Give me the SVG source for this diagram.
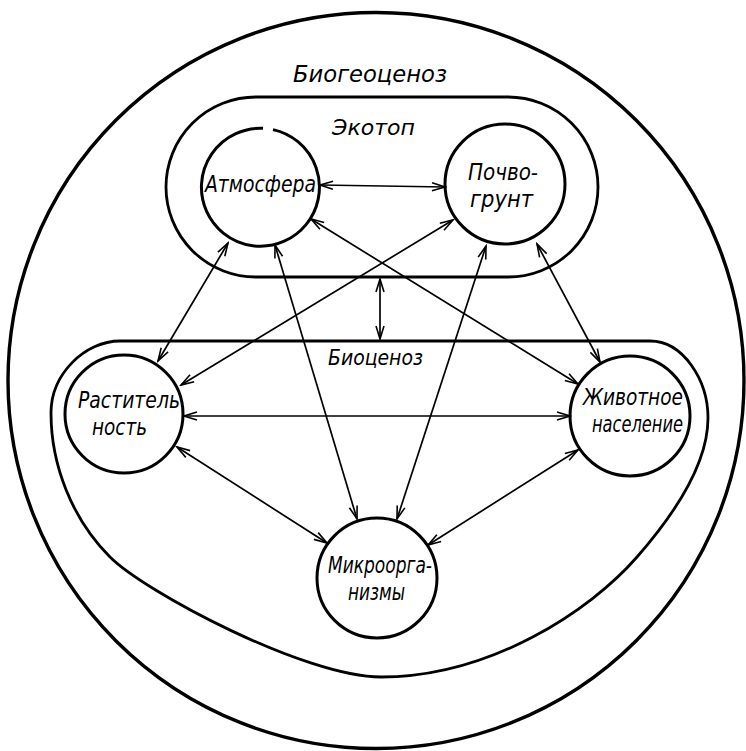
<svg xmlns="http://www.w3.org/2000/svg" width="746" height="751" viewBox="0 0 746 751">
<style>
.bg{fill:#ffffff}
.frame{fill:none;stroke:#000;stroke-width:3.4}
.zone{fill:none;stroke:#000;stroke-width:2.8}
.node{fill:none;stroke:#000;stroke-width:3}
.con{fill:none;stroke:#000;stroke-width:1.7;marker-start:url(#ah);marker-end:url(#ah)}
text{font-family:"DejaVu Sans Condensed","Liberation Sans Narrow","DejaVu Sans","Liberation Sans",sans-serif;font-style:italic;font-size:23px;fill:#000}
.big{font-size:23px}
.mid{font-size:21px}
</style>
<defs>
<marker id="ah" viewBox="-15 -6 17 12" refX="0" refY="0" markerWidth="17" markerHeight="12" markerUnits="userSpaceOnUse" orient="auto-start-reverse">
<path d="M-13,-4 L0,0 L-13,4" fill="none" stroke="#000" stroke-width="1.6"/>
</marker>
</defs>
<rect class="bg" x="0" y="0" width="746" height="751"/>

<g id="biogeocenoz">
<circle class="frame" cx="376" cy="380.5" r="368"/>
<text class="big" x="293" y="82" textLength="154" lengthAdjust="spacingAndGlyphs">Биогеоценоз</text>
</g>

<g id="ekotop">
<rect class="zone" x="166" y="97" width="432" height="180" rx="90" ry="90"/>
<text class="mid" x="332" y="135" textLength="83" lengthAdjust="spacingAndGlyphs">Экотоп</text>
</g>

<g id="biocenoz">
<path class="zone" d="M120,341 L650,341 C683,341 708,380 708,418 C708,470 665,525 637,557 C590,611 490,677 381,677 C305,677 145,592 110,557 C72,519 51,465 51,413 C51,374 85,341 120,341 Z"/>
<text class="mid" x="328" y="365" textLength="95" lengthAdjust="spacingAndGlyphs">Биоценоз</text>
</g>

<g id="atmosfera">
<path class="node" d="M273,129.6 A59,59 0 1 1 263,128.3"/>
<text x="205" y="192" textLength="111" lengthAdjust="spacingAndGlyphs">Атмосфера</text>
</g>

<g id="pochvogrunt">
<circle class="node" cx="505" cy="184" r="60"/>
<text x="468" y="180" textLength="70" lengthAdjust="spacingAndGlyphs">Почво-</text>
<text x="470" y="207" textLength="63" lengthAdjust="spacingAndGlyphs">грунт</text>
</g>

<g id="rastitelnost">
<circle class="node" cx="124" cy="414" r="59"/>
<text x="78" y="408" textLength="102" lengthAdjust="spacingAndGlyphs">Раститель</text>
<text x="92" y="435" textLength="55" lengthAdjust="spacingAndGlyphs">ность</text>
</g>

<g id="zhivotnoe">
<circle class="node" cx="630" cy="416" r="60"/>
<text x="583" y="405" textLength="100" lengthAdjust="spacingAndGlyphs">Животное</text>
<text x="592" y="432" textLength="91" lengthAdjust="spacingAndGlyphs">население</text>
</g>

<g id="mikroorganizmy">
<circle class="node" cx="377" cy="578" r="60"/>
<text x="328" y="573" textLength="104" lengthAdjust="spacingAndGlyphs">Микроорга-</text>
<text x="348" y="600" textLength="57" lengthAdjust="spacingAndGlyphs">низмы</text>
</g>

<g id="connectors">
<line class="con" x1="320" y1="185" x2="445" y2="187"/>
<line class="con" x1="228" y1="243" x2="158" y2="361"/>
<line class="con" x1="275" y1="245" x2="357" y2="519"/>
<line class="con" x1="311" y1="219" x2="578" y2="384"/>
<line class="con" x1="453" y1="220" x2="181" y2="385"/>
<line class="con" x1="486" y1="246" x2="397" y2="519"/>
<line class="con" x1="537" y1="244" x2="600" y2="362"/>
<line class="con" x1="184" y1="416" x2="570" y2="416"/>
<line class="con" x1="177" y1="447" x2="327" y2="543"/>
<line class="con" x1="578" y1="450" x2="428" y2="545"/>
<line class="con" x1="380" y1="279" x2="380" y2="339"/>
</g>
</svg>
